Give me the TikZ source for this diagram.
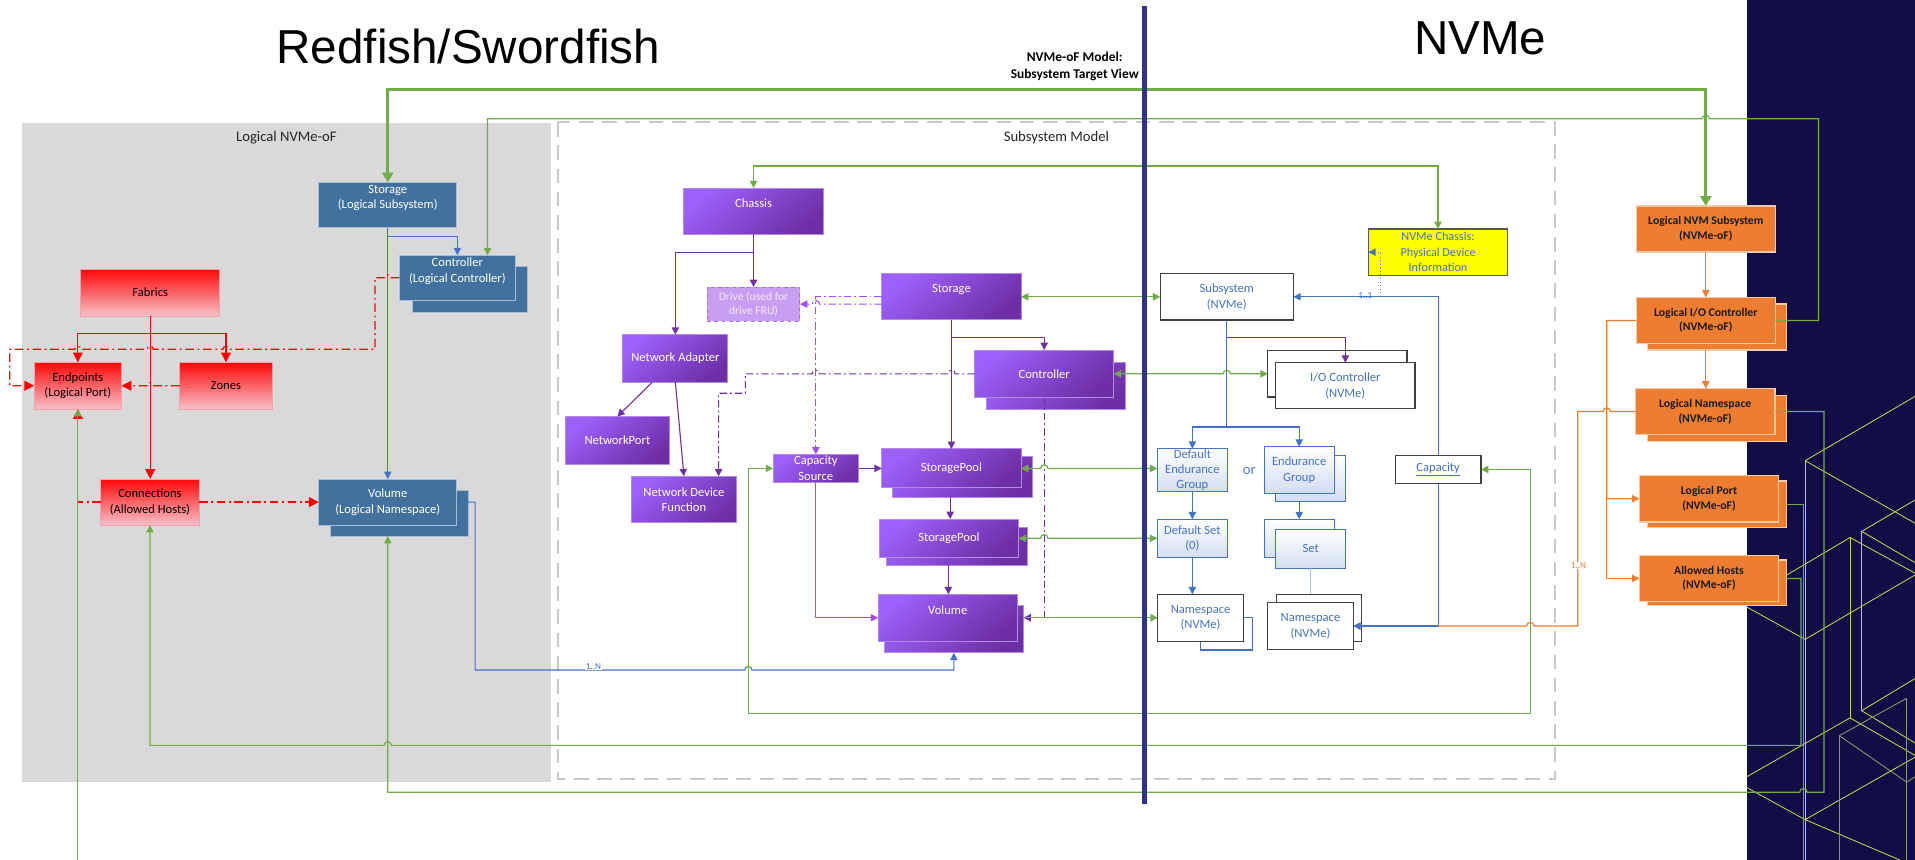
\documentclass[tikz,border=0pt]{standalone}
\usepackage{fontspec}
\setmainfont{Carlito}
\newfontfamily\headfont{Liberation Sans}
\usetikzlibrary{arrows.meta}

\definecolor{stb}{HTML}{41719C}
\definecolor{stbd}{HTML}{A6BDD7}
\definecolor{redA}{HTML}{FF0808}
\definecolor{redB}{HTML}{F7C0C8}
\definecolor{redD}{HTML}{F4A0A8}
\definecolor{purA}{HTML}{9D60FA}
\definecolor{purB}{HTML}{6E2FA6}
\definecolor{purE}{HTML}{B38AE6}
\definecolor{purD}{HTML}{7030A0}
\definecolor{purL}{HTML}{A04BF5}
\definecolor{drvF}{HTML}{C89EF3}
\definecolor{drvD}{HTML}{A56DEA}
\definecolor{drvT}{HTML}{F3EAFF}
\definecolor{orF}{HTML}{ED7D31}
\definecolor{orD}{HTML}{F6C9A8}
\definecolor{orT}{HTML}{1A1A1A}
\definecolor{nvT}{HTML}{4472C4}
\definecolor{nvL}{HTML}{A9BCDD}
\definecolor{bdk}{HTML}{404040}
\definecolor{lbl}{HTML}{D3DDF1}
\definecolor{grn}{HTML}{70AD47}
\definecolor{navy}{HTML}{130D45}
\definecolor{vline}{HTML}{2E3192}
\definecolor{panelg}{HTML}{D9D9D9}
\definecolor{dashg}{HTML}{C8C8C8}
\definecolor{pat}{HTML}{C3D350}
\definecolor{patg}{HTML}{8E9A6E}
\definecolor{ylw}{HTML}{FFFF00}
\definecolor{ylwD}{HTML}{595959}
\definecolor{orTxt}{HTML}{5B7DB8}

\newcommand{\mkbx}[7]{%
  \node[#2, anchor=north west, minimum width={(#5-#3)*1pt}, minimum height={(#6-#4)*1pt}] (#1) at (#3,#4) {#7};}

\tikzset{
  every node/.style={font=\fontsize{10.3}{12.8}\selectfont, align=center, inner sep=0pt, outer sep=0pt},
  sbox/.style={fill=stb, draw=stbd, line width=0.8pt, text=white},
  rbox/.style={top color=redA, bottom color=redB, draw=redD, line width=0.6pt, text=black},
  pbox/.style={top color=purA, bottom color=purB, shading angle=40, draw=purE, line width=0.8pt, text=white},
  dbox/.style={fill=drvF, draw=drvD, dashed, line width=0.8pt, text=drvT, font=\fontsize{9.5}{11.5}\selectfont},
  obox/.style={fill=orF, draw=orD, line width=1pt, text=orT, font=\bfseries\fontsize{9.6}{12}\selectfont},
  nbox/.style={fill=white, draw=bdk, line width=1pt, text=nvT},
  lbox/.style={top color=white, bottom color=lbl, draw=nvT, line width=0.8pt, text=nvT, font=\fontsize{10.3}{12.5}\selectfont},
  lboxw/.style={fill=white, draw=nvT, line width=0.9pt},
  ybox/.style={fill=ylw, draw=ylwD, line width=1pt, text=nvT, font=\fontsize{10}{12.6}\selectfont},
  raise/.style={text depth=13pt},
  rl/.style={draw=red, line width=1pt},
  rdd/.style={draw=red, line width=1pt, dash pattern=on 7pt off 3pt on 1.5pt off 3pt},
  rarr/.style={-{Triangle[length=8pt,width=8pt]}},
  bl/.style={draw=nvT, line width=0.9pt},
  blt/.style={draw=nvL, line width=0.8pt},
  pl/.style={draw=purD, line width=0.9pt},
  plt/.style={draw=purL, line width=0.9pt},
  pdd/.style={draw=purD, line width=0.9pt, dash pattern=on 6pt off 2.5pt on 1.5pt off 2.5pt},
  pldd/.style={draw=purL, line width=0.9pt, dash pattern=on 6pt off 2.5pt on 1.5pt off 2.5pt},
  gl/.style={draw=grn, line width=1pt},
  gthick/.style={draw=grn, line width=2.4pt, >={Triangle[length=8pt,width=9pt]}},
  ol/.style={draw=orF, line width=1pt},
  mult/.style={font=\fontsize{7.5}{8}\selectfont, fill=white, inner sep=0.8pt},
}

\begin{document}
\begin{tikzpicture}[x=1pt,y=-1pt, >={Triangle[length=6pt,width=6pt]}]
\useasboundingbox (0,0) rectangle (1568,704);
\fill[white] (0,0) rectangle (1568,704);

% dark right panel with line pattern
\fill[navy] (1430.2,0) rectangle (1568,704);
\begin{scope}
  \clip (1430.2,0) rectangle (1568,704);
  \begin{scope}[draw=pat, line width=0.7pt]
    \draw (1478,377.2) -- (1568,324.6);
    \draw (1478,377.2) -- (1568,428.4);
    \draw (1478,377.2) -- (1478,704);
    \draw (1430.2,497) -- (1478,523.5) -- (1568,470.8);
    \draw (1430,490.4) -- (1514.8,440.1) -- (1568,469.3);
    \draw (1514.8,440.1) -- (1514.8,587.8);
    \draw (1524.3,435.1) -- (1568,409.4);
    \draw (1524.3,435.1) -- (1568,460.6);
    \draw (1524.3,435.1) -- (1524.3,581.9);
    \draw (1524.3,581.9) -- (1568,555.6);
    \draw (1524.3,581.9) -- (1568,608.3);
    \draw (1430.2,636) -- (1514.8,587.8) -- (1568,618.5);
    \draw (1430.2,644.8) -- (1478,671.1) -- (1568,620);
    \draw (1478,671.1) -- (1555.7,704.2);
  \end{scope}
  \begin{scope}[draw=patg, line width=0.7pt]
    \draw (1506,602.4) -- (1561.2,571.7);
    \draw (1506,602.4) -- (1561.2,640.4) -- (1568,636);
    \draw (1506,602.4) -- (1506,704);
    \draw (1561.2,571.7) -- (1561.2,704);
  \end{scope}
\end{scope}

% titles
\node[font=\headfont\fontsize{39}{39}\selectfont, anchor=base] (ttlA) at (383.5,52) {Redfish/Swordfish};
\node[font=\headfont\fontsize{39}{39}\selectfont, anchor=base] (ttlB) at (1212,45) {NVMe};
\node[font=\bfseries\fontsize{11}{14}\selectfont] (ttlC) at (880,54.5) {NVMe-oF Model:\\Subsystem Target View};

% panels
\fill[panelg] (18,101) rectangle (451,640);
\draw[dashg, line width=1.6pt, dash pattern=on 12pt off 7pt] (457,100) rectangle (1273,638);
\node[font=\fontsize{12}{14}\selectfont, text=black!85] (lblA) at (234.5,113) {Logical NVMe-oF};
\node[font=\fontsize{12}{14}\selectfont, text=black!85] (lblB) at (865,113) {Subsystem Model};

% ---------- left (Redfish logical) ----------
\mkbx{lstor}{sbox,raise}{261}{149.3}{374}{186.4}{Storage\\(Logical Subsystem)}
\mkbx{lctrlB}{sbox}{338}{218.4}{432}{256}{}
\mkbx{lctrl}{sbox,raise}{327}{209}{422}{246}{Controller\\(Logical Controller)}
\mkbx{fabrics}{rbox}{66}{220.5}{180}{258.7}{Fabrics}
\mkbx{endp}{rbox}{28}{296.7}{99.5}{335}{Endpoints\\(Logical Port)}
\mkbx{zones}{rbox}{147}{296.7}{223}{335}{Zones}
\mkbx{conn}{rbox}{82.5}{392.2}{163}{430}{Connections\\(Allowed Hosts)}
\mkbx{lvolB}{sbox}{270.5}{401.2}{384}{439}{}
\mkbx{lvol}{sbox}{261}{392.2}{374}{430}{Volume\\(Logical Namespace)}

% ---------- purple (Swordfish model) ----------
\mkbx{chassis}{pbox,raise}{560}{154}{674}{192}{Chassis}
\mkbx{drive}{dbox}{579}{235}{655}{263}{Drive (used for\\drive FRU)}
\mkbx{pstor}{pbox,raise}{722}{224}{836}{262}{Storage}
\mkbx{netad}{pbox}{510}{274}{596}{313}{Network Adapter}
\mkbx{netport}{pbox}{463}{341}{548}{380}{NetworkPort}
\mkbx{ndf}{pbox}{517}{390}{603}{428}{Network Device\\Function}
\mkbx{pctrlB}{pbox}{808}{296.7}{921.7}{335}{}
\mkbx{pctrl}{pbox}{798}{286.6}{912}{325.6}{Controller}
\mkbx{capsrc}{pbox}{633}{372}{703}{395}{Capacity\\Source}
\mkbx{sp1B}{pbox}{731}{374}{845}{407}{}
\mkbx{sp1}{pbox}{722}{367.6}{836}{399.5}{StoragePool}
\mkbx{sp2B}{pbox}{726}{432}{841}{463}{}
\mkbx{sp2}{pbox}{720}{425}{834}{456.5}{StoragePool}
\mkbx{pvolB}{pbox}{724}{496}{838}{534.5}{}
\mkbx{pvol}{pbox,raise}{719}{486.6}{833}{525}{Volume}

% ---------- NVMe ----------
\mkbx{subsys}{nbox}{950}{224}{1059}{262}{Subsystem\\(NVMe)}
\mkbx{nvch}{ybox}{1120.4}{187.5}{1234.5}{225.4}{NVMe Chassis:\\Physical Device\\Information}
\mkbx{ioB}{nbox}{1038}{287}{1152}{325}{}
\mkbx{io}{nbox}{1044.5}{297}{1158.6}{334.6}{I/O Controller\\(NVMe)}
\mkbx{deg}{lbox}{947.6}{367.4}{1005}{402.3}{Default\\Endurance\\Group}
\node[font=\fontsize{12}{14}\selectfont, text=orTxt] (orw) at (1023,385.4) {or};
\mkbx{egB}{lbox}{1044.5}{372.8}{1102}{411}{}
\mkbx{eg}{lbox}{1035}{365.7}{1092.5}{404}{Endurance\\Group}
\mkbx{dset}{lbox}{947.6}{425.2}{1005}{456.6}{Default Set\\(0)}
\mkbx{setB}{lbox}{1035}{425.2}{1092.5}{456.6}{}
\mkbx{setF}{lbox}{1044.5}{433.4}{1102}{465.3}{Set}
\mkbx{ns1B}{lboxw}{983}{505.5}{1025.4}{532.2}{}
\mkbx{ns1}{nbox}{948}{486.6}{1018}{525}{Namespace\\(NVMe)}
\mkbx{ns2B}{nbox}{1045}{486.6}{1115}{525}{}
\mkbx{ns2}{nbox}{1038}{493.5}{1108}{531.7}{Namespace\\(NVMe)}
\mkbx{cap}{nbox}{1142.5}{372.8}{1212.6}{396}{\underline{Capacity}}

% ---------- orange (NVMe-oF) ----------
\mkbx{lnvm}{obox}{1339.8}{168.6}{1453.6}{206.3}{Logical NVM Subsystem\\(NVMe-oF)}
\mkbx{lioB}{obox}{1348.8}{249}{1462.6}{286.6}{}
\mkbx{lio}{obox}{1339.8}{243.5}{1453.6}{281.2}{Logical I/O Controller\\(NVMe-oF)}
\mkbx{lnB}{obox}{1348.8}{324}{1462.6}{361.6}{}
\mkbx{ln}{obox}{1339}{318}{1453.4}{356}{Logical Namespace\\(NVMe-oF)}
\mkbx{lportB}{obox}{1348.8}{393.8}{1462.6}{432.2}{}
\mkbx{lport}{obox}{1342.3}{389.3}{1456.4}{427.4}{Logical Port\\(NVMe-oF)}
\mkbx{ahB}{obox}{1348.8}{458.5}{1462.6}{495.7}{}
\mkbx{ah}{obox}{1342.3}{454.8}{1456.4}{492.4}{Allowed Hosts\\(NVMe-oF)}

\coordinate (offA) at (63.75,704);
\coordinate (offB) at (1476.6,704);

% ---------- red connectors ----------
\draw[rl,rarr] (fabrics.south) -- (fabrics.south |- conn.north);
\draw[rl,rarr] (123,272.9) -| (endp.north);
\draw[rl,rarr] (123,272.9) -| (zones.north);
\draw[rdd,rarr] (zones.west) -- (125.5,315.85) arc[start angle=0,end angle=180,radius=2.5pt] -- (endp.east);
\draw[rdd,rarr] (lctrl.west) -- (320,227.5) arc[start angle=0,end angle=180,radius=2.5pt] -- (307,227.5) -- (307,286)
   -- (187.5,286) arc[start angle=0,end angle=180,radius=2.5pt]
   -- (125.5,286) arc[start angle=0,end angle=180,radius=2.5pt]
   -- (66.25,286) arc[start angle=0,end angle=180,radius=2.5pt]
   -- (7.9,286) -- (7.9,315.85) -- (endp.west);
\draw[rdd,rarr] (conn.east) -- (lvol.west);
\draw[rdd,rarr] (conn.west) -| (endp.south);

% ---------- blue (left) ----------
\draw[bl,->] (lstor.south) -- (lvol.north);
\draw[bl,->] (317.5,193.8) -| (lctrl.north);
\draw[bl,->] (lvol.east) -- (389,411.1) -- (389,548.6) -- (609.7,548.6) arc[start angle=180,end angle=0,radius=3pt] -- (781,548.6) -- (pvolB.south);
\node[mult, text=nvT] (mA) at (486,545.5) {1..N};

% ---------- purple connectors ----------
\draw[pl,->] (chassis.south) -- (drive.north);
\draw[pl,->] (617,206.5) -| (netad.north);
\draw[pl,->] (534,0 |- netad.south) -- (netport.north);
\draw[pl,->] (netad.south) -- (ndf.north);
\draw[pldd,->] (pstor.west |- drive.east) -- (671,0 |- drive.east) arc[start angle=0,end angle=180,radius=3pt] -- (drive.east);
\draw[pldd,->] (pstor.west) -- (668,243) -- (capsrc.north);
\draw[pdd,->] (pctrl.west) -- (782,306.1) arc[start angle=0,end angle=180,radius=3pt] -- (671,306.1) arc[start angle=0,end angle=180,radius=3pt] -- (610.3,306.1) -- (610.3,322) -- (588.4,322) -- (588.4,0 |- ndf.north);
\draw[pdd,->] (pctrl.south) -- (855,505.8) -- (pvolB.east |- pvol.east);
\draw[plt,->] (capsrc.south) |- (pvol.west);
\draw[pl,->] (capsrc.east) -- (capsrc.east -| sp1.west);
\draw[pl,->] (pstor.south) -- (sp1.north);
\draw[pl,->] (779,276.2) -| (pctrl.north);
\draw[pl,->] (778,0 |- sp1B.south) -- (778,0 |- sp2.north);
\draw[pl,->] (776.5,0 |- sp2B.south) -- (776.5,0 |- pvol.north);

% ---------- NVMe connectors ----------
\draw[bl] (subsys.south) -- (1004.5,349.6);
\draw[bl,->] (1004.5,349.6) -| (deg.north);
\draw[bl,->] (1004.5,349.6) -| (eg.north);
\draw[pl,->] (1004.5,276.2) -| (io.north);
\draw[bl,->] (deg.south) -- (dset.north);
\draw[bl,->] (eg.south |- egB.south) -- (setB.north);
\draw[bl,->] (dset.south) -- (dset.south |- ns1.north);
\draw[blt] (setF.south) -- (setF.south |- ns2B.north);
\draw[bl,->] (cap.north) |- (subsys.east);
\node[font=\fontsize{7.5}{8}\selectfont, text=nvT] (mB) at (1118,242) {1..1};
\draw[bl,dotted,->] (1130,243) -- (1130,0 |- nvch.west) -- (nvch.west);
\draw[bl,->] (cap.south) |- (ns2.east);
\draw[ol] (1177.55,512.6) -- (1250,512.6) arc[start angle=180,end angle=0,radius=3pt] -- (1291.8,512.6) -- (1291.8,337) -- (1312.5,337) arc[start angle=180,end angle=0,radius=3pt] -- (ln.west);
\node[mult, text=orF] (mC) at (1292.5,463) {1..N};

% ---------- orange connectors ----------
\draw[ol,->] (lnvm.south) -- (lio.north);
\draw[ol,->] (lio.south |- lioB.south) -- (lio.south |- ln.north);
\draw[ol,->] (lio.west) -- (1315.5,262.35) |- (lport.west);
\draw[ol,->] (1315.5,408.35) |- (ah.west);

% ---------- green connectors ----------
\draw[gthick,<->] (lstor.north) -- (317.5,73.5) -- (1396.7,73.5) -- (lnvm.north);
\draw[gl,->] (lio.east) -- (1489,262.35) -- (1489,97.3) -- (1399.7,97.3) arc[start angle=0,end angle=180,radius=3pt] -- (399.2,97.3) -- (399.2,0 |- lctrl.north);
\draw[gl,<->] (chassis.north) -- (617,136) -- (1177.45,136) -- (nvch.north);
\draw[gl,<->] (pstor.east) -- (pstor.east -| subsys.west);
\draw[gl,<->] (pctrl.east) -- (1001.5,306.1) arc[start angle=180,end angle=0,radius=3pt] -- (pctrl.east -| ioB.west);
\draw[gl,<->] (sp1.east) -- (852,383.55) arc[start angle=180,end angle=0,radius=3pt] -- (sp1.east -| deg.west);
\draw[gl,<->] (sp2.east) -- (852,440.75) arc[start angle=180,end angle=0,radius=3pt] -- (sp2.east -| dset.west);
\draw[gl,->] (pvolB.east |- pvol.east) -- (pvol.east -| ns1.west);
\draw[gl,<->] (capsrc.west) -- (612.7,383.5) -- (612.7,584) -- (1253,584) -- (1253,384.4) -- (cap.east);
\draw[gl,->] (ln.east) -- (1493.5,337) -- (1493.5,648.6) -- (1479.6,648.6) arc[start angle=0,end angle=180,radius=3pt] -- (317.5,648.6) -- (lvol.south |- lvolB.south);
\draw[gl] (lportB.east) -- (1476.6,413) -- (offB);
\draw[gl,->] (ahB.east |- ah.east) -- (1474.6,473.6) -- (1474.6,610.3) -- (320.5,610.3) arc[start angle=0,end angle=180,radius=3pt] -| (conn.south);
\draw[gl,->] (offA) -- (endp.south);

% ---------- central divider ----------
\draw[vline, line width=4.5pt] (937,5) -- (937,658);
\end{tikzpicture}
\end{document}
